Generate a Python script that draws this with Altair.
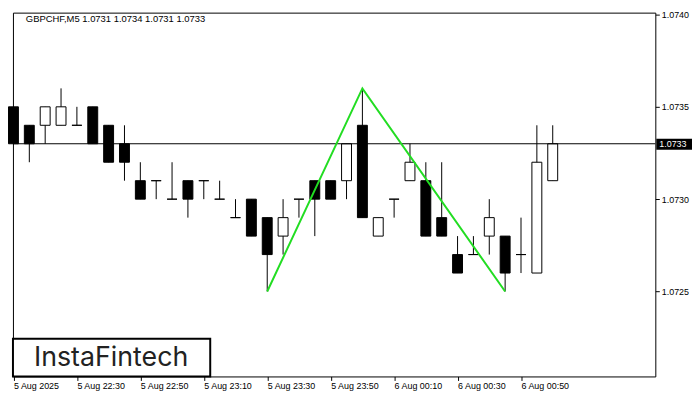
import altair as alt
import pandas as pd

# ---- data ----
opens  = [1.0735, 1.0734, 1.0734, 1.0734, 1.0734, 1.0735, 1.0734, 1.0733, 1.0731, 1.0731,
          1.0730, 1.0731, 1.0731, 1.0730, 1.0729, 1.0730, 1.0729, 1.0728, 1.0730, 1.0731,
          1.0731, 1.0731, 1.0734, 1.0728, 1.0730, 1.0731, 1.0731, 1.0729, 1.0727, 1.0727,
          1.0728, 1.0728, 1.0727, 1.0726, 1.0731]
highs  = [1.0735, 1.0734, 1.0735, 1.0736, 1.0735, 1.0735, 1.0734, 1.0734, 1.0732, 1.0731,
          1.0732, 1.0731, 1.0731, 1.0731, 1.0730, 1.0730, 1.0729, 1.0730, 1.0730, 1.0731,
          1.0731, 1.0733, 1.0736, 1.0729, 1.0730, 1.0733, 1.0732, 1.0732, 1.0728, 1.0728,
          1.0730, 1.0728, 1.0729, 1.0734, 1.0734]
lows   = [1.0733, 1.0732, 1.0733, 1.0734, 1.0734, 1.0733, 1.0732, 1.0731, 1.0730, 1.0730,
          1.0730, 1.0729, 1.0730, 1.0730, 1.0729, 1.0728, 1.0725, 1.0727, 1.0729, 1.0728,
          1.0730, 1.0730, 1.0729, 1.0728, 1.0729, 1.0731, 1.0728, 1.0728, 1.0726, 1.0727,
          1.0727, 1.0725, 1.0726, 1.0726, 1.0731]
closes = [1.0733, 1.0733, 1.0735, 1.0735, 1.0734, 1.0733, 1.0732, 1.0732, 1.0730, 1.0731,
          1.0730, 1.0730, 1.0731, 1.0730, 1.0729, 1.0728, 1.0727, 1.0729, 1.0730, 1.0730,
          1.0730, 1.0733, 1.0729, 1.0729, 1.0730, 1.0732, 1.0728, 1.0728, 1.0726, 1.0727,
          1.0729, 1.0726, 1.0727, 1.0732, 1.0733]

tick_bars = [0, 4, 8, 12, 16, 20, 24, 28, 32]
tick_labels = ["5 Aug 2025", "5 Aug 22:30", "5 Aug 22:50", "5 Aug 23:10", "5 Aug 23:30",
               "5 Aug 23:50", "6 Aug 00:10", "6 Aug 00:30", "6 Aug 00:50"]
price_ticks = [1.0725, 1.0730, 1.0735, 1.0740]

pattern_bars = [16, 22, 31]
pattern_prices = [1.0725, 1.0736, 1.0725]

current_price = 1.0733
header = "GBPCHF,M5  1.0731 1.0734 1.0731 1.0733"
logo = "InstaFintech"

# ---- tables ----
df = pd.DataFrame({
    "i": list(range(len(opens))),
    "open": opens, "high": highs, "low": lows, "close": closes,
})
df["up"] = df["close"] > df["open"]
pat = pd.DataFrame({"i": pattern_bars, "p": pattern_prices})
cur = pd.DataFrame({"p": [current_price], "t": [f"{current_price:.4f}"]})

W, H = 648, 367
FONT = "Liberation Sans"

label_arr = "[" + ",".join(f"'{t}'" for t in tick_labels) + "]"

xs = alt.Scale(domain=[-0.03125, 40.46875], nice=False, zero=False)
ys = alt.Scale(domain=[1.07204, 1.07401], nice=False, zero=False)

x_axis = alt.Axis(values=tick_bars, labelExpr=f"{label_arr}[round(datum.value/4)]",
                  orient="bottom", grid=False, domain=False, tickSize=4, tickColor="black",
                  labelAlign="left", labelPadding=1, labelFont=FONT, labelFontSize=9,
                  labelColor="black", labelOverlap=False, labelFlush=False, title=None)
y_axis = alt.Axis(values=price_ticks, format=".4f", orient="right", grid=False,
                  domain=False, tickSize=4, tickColor="black", labelPadding=2,
                  labelFont=FONT, labelFontSize=9, labelColor="black", title=None,
                  labelFlush=False, labelOverlap=False)

base = alt.Chart(df)

wicks = base.mark_rule(color="black", strokeWidth=1).encode(
    x=alt.X("i:Q", scale=xs, axis=x_axis),
    y=alt.Y("low:Q", scale=ys, axis=y_axis),
    y2="high:Q",
)

bodies = base.mark_rect(xOffset=-5, x2Offset=5, stroke="black", strokeWidth=1).encode(
    x=alt.X("i:Q", scale=xs),
    x2="i:Q",
    y=alt.Y("open:Q", scale=ys),
    y2="close:Q",
    fill=alt.condition("datum.up", alt.value("white"), alt.value("black")),
)

cur_line = alt.Chart(cur).mark_rule(color="black", strokeWidth=1).encode(
    y=alt.Y("p:Q", scale=ys),
    x=alt.value(0), x2=alt.value(W),
)

pattern = alt.Chart(pat).mark_line(color="#22dd22", strokeWidth=2).encode(
    x=alt.X("i:Q", scale=xs),
    y=alt.Y("p:Q", scale=ys),
)

cur_box = alt.Chart(cur).mark_rect(color="black", yOffset=-5, y2Offset=6).encode(
    y=alt.Y("p:Q", scale=ys), y2="p:Q",
    x=alt.value(W + 1), x2=alt.value(W + 37),
)
cur_text = alt.Chart(cur).mark_text(color="white", font=FONT, fontSize=9, align="left",
                                    baseline="middle", dy=0.5).encode(
    y=alt.Y("p:Q", scale=ys),
    x=alt.value(W + 4),
    text="t:N",
)

hdr = alt.Chart(cur).mark_text(font=FONT, fontSize=9.5, align="left", baseline="middle",
                               color="black").encode(
    x=alt.value(13), y=alt.value(6), text=alt.value(header),
)

logo_box = alt.Chart(cur).mark_rect(fill="white", stroke="black", strokeWidth=2).encode(
    x=alt.value(0), x2=alt.value(199), y=alt.value(H - 38), y2=alt.value(H),
)
logo_text = alt.Chart(cur).mark_text(font="Inter", fontSize=27, fontWeight=400,
                                     align="center", baseline="middle",
                                     color="#222222").encode(
    x=alt.value(99), y=alt.value(H - 19), text=alt.value(logo),
)

chart = alt.layer(
    wicks, bodies, cur_line, pattern, cur_box, cur_text, hdr, logo_box, logo_text
).properties(
    width=W, height=H, padding=0, background="white"
).configure_view(stroke="black", strokeWidth=1)

chart.save("out.html", embed_options={"renderer": "svg", "actions": False})
